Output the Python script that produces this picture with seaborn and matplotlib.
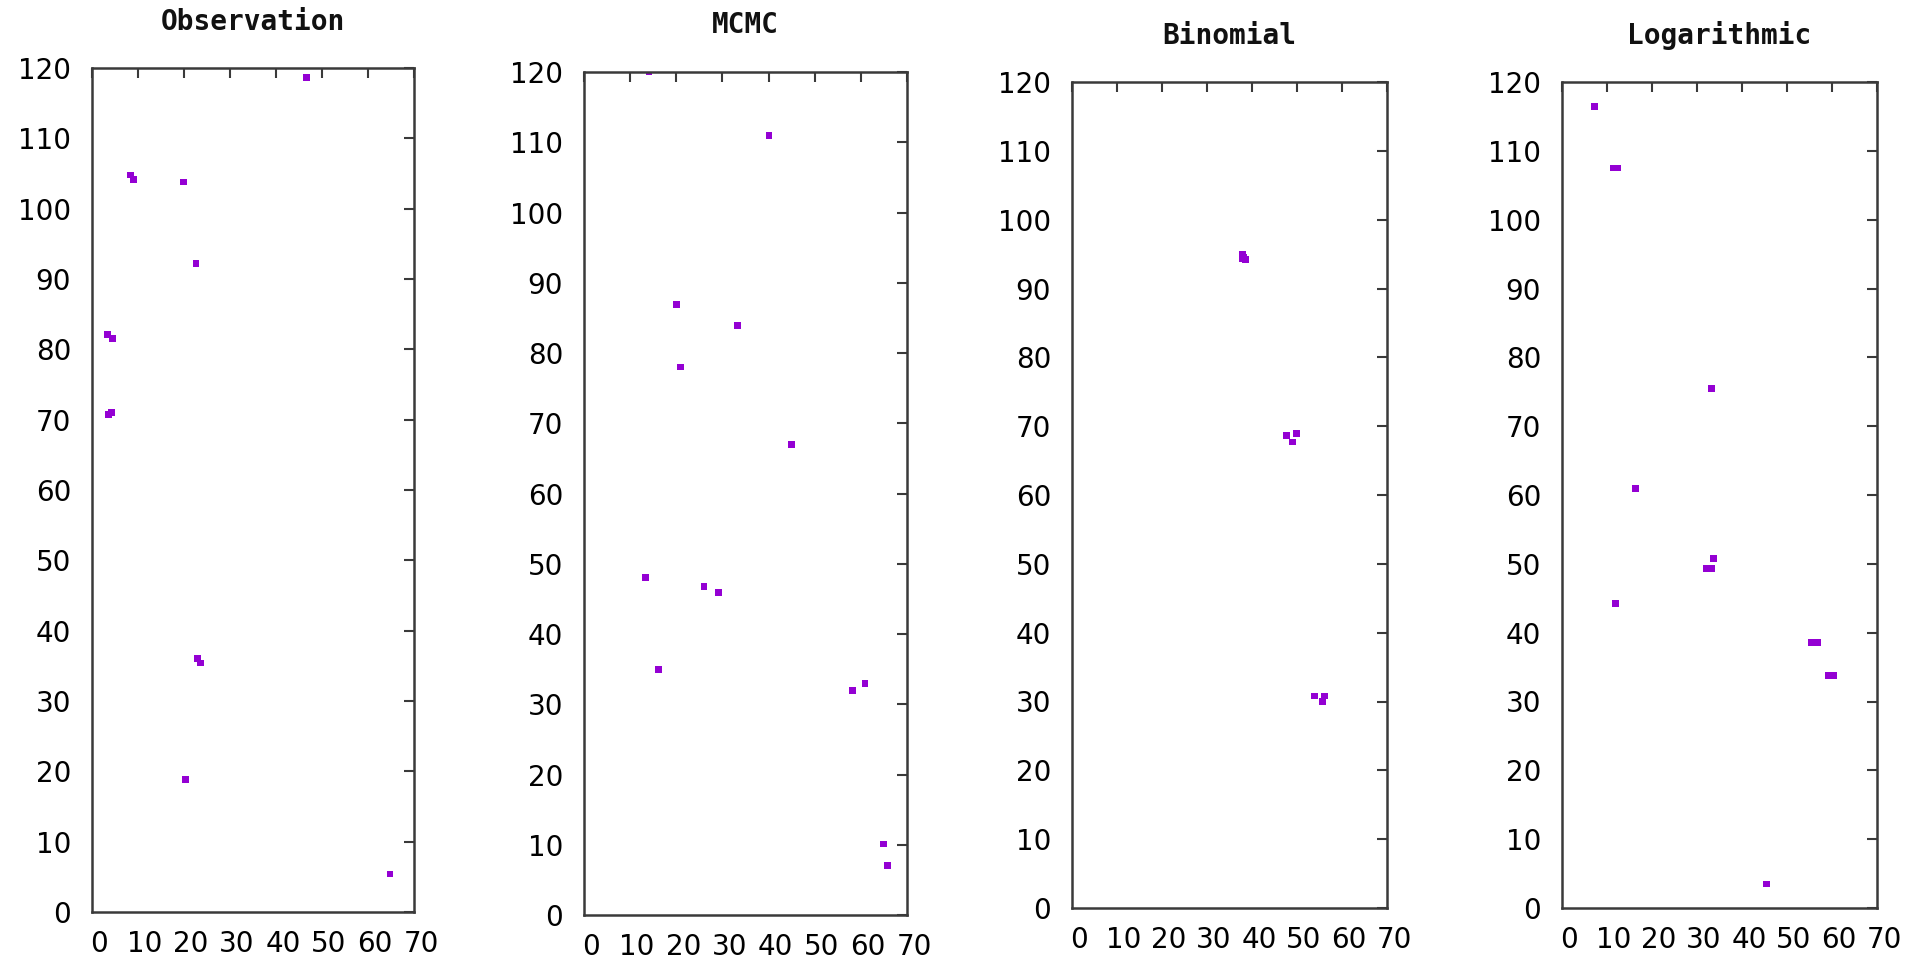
import matplotlib
matplotlib.use("Agg")
import matplotlib.pyplot as plt
import matplotlib.transforms as mtransforms
import seaborn as sns
import pandas as pd

titles = ["Observation", "MCMC", "Binomial", "Logarithmic"]

obs_x = [46.7, 8.3, 9.0, 19.9, 22.6, 3.4, 4.5, 3.5, 4.2, 23.0, 23.5, 20.4, 64.8]
obs_y = [118.7, 104.8, 104.1, 103.8, 92.2, 82.1, 81.5, 70.7, 71.0, 36.0, 35.4, 18.8, 5.4]

mcmc_x = [14.1, 40.1, 20.1, 33.2, 21.0, 45.0, 13.3, 16.1, 26.0, 29.2, 58.2, 60.9, 64.9, 65.8]
mcmc_y = [120.0, 111.0, 86.9, 83.9, 78.0, 67.0, 48.0, 35.0, 46.8, 45.9, 32.0, 32.9, 10.1, 7.1]

binom_x = [37.8, 38.2, 38.6, 37.9, 47.6, 49.8, 49.0, 53.9, 56.1, 55.6]
binom_y = [95.0, 94.5, 94.2, 94.3, 68.6, 68.9, 67.7, 30.8, 30.8, 30.0]

log_x = [7.3, 11.4, 12.4, 33.2, 16.4, 11.9, 32.2, 33.2, 33.7, 55.5, 56.9, 59.1, 60.4, 45.4]
log_y = [116.4, 107.5, 107.5, 75.5, 60.9, 44.2, 49.3, 49.3, 50.8, 38.6, 38.6, 33.8, 33.8, 3.5]

xticks = [0, 10, 20, 30, 40, 50, 60, 70]
yticks = [0, 10, 20, 30, 40, 50, 60, 70, 80, 90, 100, 110, 120]

series = [(obs_x, obs_y), (mcmc_x, mcmc_y), (binom_x, binom_y), (log_x, log_y)]

sns.set_theme(style="white")
plt.rcParams['font.family'] = ['DejaVu Sans']

W, H = 1918, 960
fig = plt.figure(figsize=(W / 100, H / 100), dpi=100)
fig.patch.set_facecolor("white")

# axes boxes in pixels: left, top, right, bottom
boxes = [
    (92, 68, 414, 912),
    (584, 72, 907, 915),
    (1072, 82, 1387, 908),
    (1562, 82, 1877, 908),
]
title_y = [22, 25, 36, 36]

edge = "#3a3a3a"
for i, (title, (xs, ys)) in enumerate(zip(titles, series)):
    l, t, r, b = boxes[i]
    ax = fig.add_axes([l / W, 1 - b / H, (r - l) / W, (b - t) / H])
    df = pd.DataFrame({"x": xs, "y": ys})
    sns.scatterplot(data=df, x="x", y="y", ax=ax, marker="s", s=24,
                    color="#9400D3", linewidth=0, edgecolor="none")
    ax.set_xlim(0, 70)
    ax.set_ylim(0, 120)
    ax.set_xticks(xticks)
    ax.set_yticks(yticks)
    ax.set_xlabel("")
    ax.set_ylabel("")
    for sp in ax.spines.values():
        sp.set_visible(True)
        sp.set_color(edge)
        sp.set_linewidth(1.8)
    ax.tick_params(axis="both", which="both", direction="in", length=7,
                   width=1.5, color=edge, top=True, right=True,
                   labelsize=20, labelcolor="#000000")
    ax.tick_params(axis="y", pad=15)
    ax.tick_params(axis="x", pad=13)
    offset = mtransforms.ScaledTranslation(7 / 100, 0, fig.dpi_scale_trans)
    for lab in ax.get_xticklabels():
        lab.set_transform(lab.get_transform() + offset)
    ax.set_facecolor("white")
    ax.grid(False)
    fig.text((l + r) / 2 / W, 1 - title_y[i] / H, title, ha="center",
             va="center", fontsize=20, family="DejaVu Sans Mono",
             fontweight="bold", color="#111111")

fig.savefig("out.png", dpi=100, facecolor="white")
